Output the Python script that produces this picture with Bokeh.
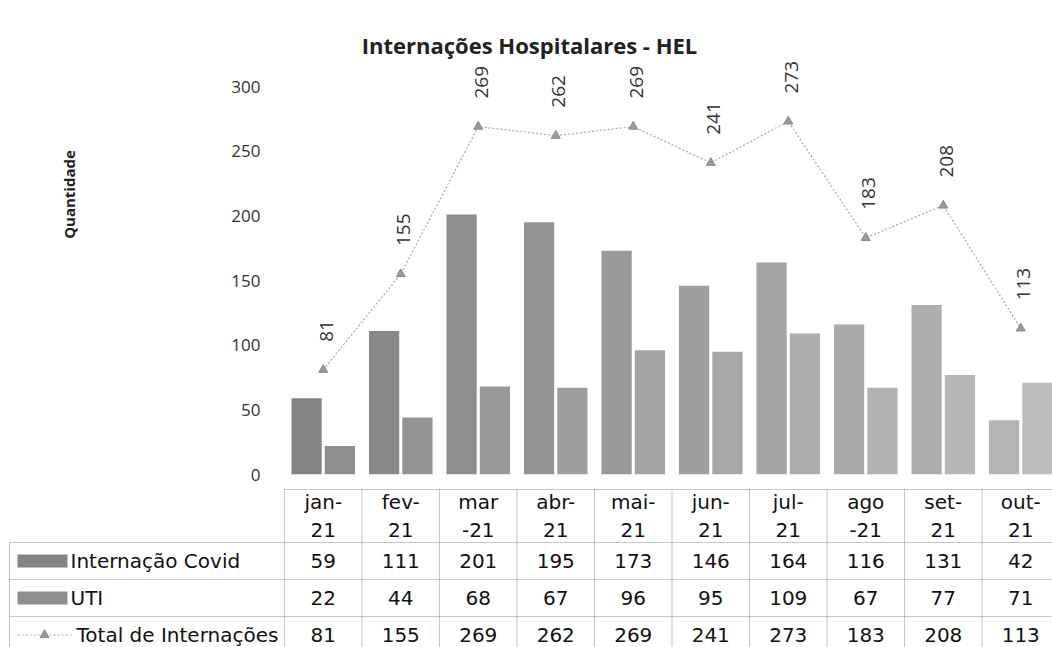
import numpy as np
from bokeh.plotting import figure
from bokeh.layouts import column, row
from bokeh.models import Range1d, FixedTicker, Label, ColumnDataSource
from bokeh.core.properties import value
from bokeh.transform import dodge
from bokeh.embed import file_html
from bokeh.resources import INLINE

# ---------------- data ----------------
months = ["jan-\n21", "fev-\n21", "mar\n-21", "abr-\n21", "mai-\n21",
          "jun-\n21", "jul-\n21", "ago\n-21", "set-\n21", "out-\n21"]
covid = [59, 111, 201, 195, 173, 146, 164, 116, 131, 42]
uti = [22, 44, 68, 67, 96, 95, 109, 67, 77, 71]
total = [81, 155, 269, 262, 269, 241, 273, 183, 208, 113]
series_names = ["Internação Covid", "UTI", "Total de Internações"]
y_ticks = [0, 50, 100, 150, 200, 250, 300]
title_text = "Internações Hospitalares - HEL"
y_label = "Quantidade"

# ---------------- layout constants ----------------
W = 1052
LAB_W = 110          # strip holding the y-axis title
FRAME_H = 474        # frame from canvas top to the zero line
MAIN_PAD_B = 12      # room for the "0" tick label
MAIN_H = FRAME_H + MAIN_PAD_B
TABLE_H = 647 - MAIN_H
LEFT = 284           # frame left on the page
COLW = 77.5          # px per category
PX_PER_UNIT = 1.2933 # px per y unit

n = len(months)
xr_end = (W - LEFT) / COLW
xr_start_tab = -LEFT / COLW
y_end = FRAME_H / PX_PER_UNIT

FONT = "Open Sans"
TFONT = "DejaVu Sans"

xs = np.arange(n) + 0.5
shade_c = [int(0x84 + (0xb4 - 0x84) * i / (n - 1)) for i in range(n)]
shade_u = [int(0x8e + (0xbc - 0x8e) * i / (n - 1)) for i in range(n)]
col_c = ["#%02x%02x%02x" % (g, g, g) for g in shade_c]
col_u = ["#%02x%02x%02x" % (g, g, g) for g in shade_u]

# ---------------- y-axis title strip ----------------
lab = figure(width=LAB_W, height=MAIN_H, output_backend="svg",
             toolbar_location=None, x_range=Range1d(0, LAB_W),
             y_range=Range1d(0, MAIN_H), min_border_left=0, min_border_right=0,
             min_border_top=0, min_border_bottom=0, title=None,
             frame_align=False)
lab.axis.visible = False
lab.grid.visible = False
lab.outline_line_color = None
lab.add_layout(Label(x=68, y=MAIN_H - 194, x_units="screen", y_units="screen",
                     text=y_label, angle=np.pi / 2, text_align="center",
                     text_baseline="middle", text_font=FONT,
                     text_font_style="bold", text_font_size="15px",
                     text_color="#222222"))

# ---------------- main chart ----------------
p = figure(width=W - LAB_W, height=MAIN_H, output_backend="svg",
           toolbar_location=None,
           x_range=Range1d(0, xr_end), y_range=Range1d(0, y_end),
           min_border_left=LEFT - LAB_W, min_border_right=0, min_border_top=0,
           min_border_bottom=MAIN_PAD_B, title=None, frame_align=False)
p.outline_line_color = None
p.xaxis.visible = False
p.xgrid.visible = False
p.ygrid.visible = False

ax = p.yaxis[0]
ax.ticker = FixedTicker(ticks=y_ticks)
ax.axis_line_color = None
ax.major_tick_line_color = None
ax.minor_tick_line_color = None
ax.major_tick_out = 0
ax.major_tick_in = 0
ax.major_label_standoff = 24
ax.major_label_text_font = FONT
ax.major_label_text_font_size = "17px"
ax.major_label_text_color = "#333333"

src = ColumnDataSource(dict(x=xs, covid=covid, uti=uti, total=total,
                            col_c=col_c, col_u=col_u,
                            lbl=[str(v) for v in total]))
p.vbar(x=dodge("x", -0.215), top="covid", width=0.39, bottom=0, source=src,
       fill_color="col_c", line_color=None)
p.vbar(x=dodge("x", 0.215), top="uti", width=0.39, bottom=0, source=src,
       fill_color="col_u", line_color=None)

p.line(x="x", y="total", source=src, line_color="#a8a8a8", line_width=1.2,
       line_dash="2 2")
p.scatter(x="x", y="total", source=src, marker="triangle", size=9,
          fill_color="#9a9a9a", line_color="#8a8a8a")
p.text(x="x", y="total", text="lbl", source=src, angle=np.pi / 2,
       text_align="left", text_baseline="middle", y_offset=-28, x_offset=3,
       text_font=value(FONT), text_font_size="19px", text_color="#333333")

p.add_layout(Label(x=529 - LEFT, y=FRAME_H - 44, x_units="screen", y_units="screen",
                   text=title_text, text_align="center", text_baseline="middle",
                   text_font=FONT, text_font_style="bold",
                   text_font_size="22px", text_color="#222222"))

# ---------------- data table ----------------
t = figure(width=W, height=TABLE_H, output_backend="svg", toolbar_location=None,
           x_range=Range1d(xr_start_tab, xr_end), y_range=Range1d(TABLE_H, 0),
           min_border_left=0, min_border_right=0, min_border_top=0,
           min_border_bottom=0, title=None, frame_align=False)
t.axis.visible = False
t.grid.visible = False
t.outline_line_color = None

HDR_TOP = 489 - MAIN_H
HDR_BOT = 542 - MAIN_H
ROW_H = 37
rows_y = [HDR_BOT + ROW_H * k for k in range(4)]
legend_left = xr_start_tab + 9 / COLW

grid_style = dict(line_color="#8c8c8c", line_width=1, line_dash="1 1")
t.segment(x0=[0], y0=[HDR_TOP], x1=[n + 1], y1=[HDR_TOP], **grid_style)
t.segment(x0=[legend_left] * len(rows_y), y0=rows_y,
          x1=[n + 1] * len(rows_y), y1=rows_y, **grid_style)
vx = list(range(n + 1))
t.segment(x0=vx, y0=[HDR_TOP] * len(vx), x1=vx, y1=[TABLE_H] * len(vx), **grid_style)
t.segment(x0=[legend_left], y0=[HDR_BOT], x1=[legend_left], y1=[TABLE_H], **grid_style)

txt_style = dict(text_font=value(TFONT), text_font_size="20px",
                 text_color="#111111", text_align="center",
                 text_baseline="middle")
t.text(x=xs, y=[(HDR_TOP + HDR_BOT) / 2] * n, text=months,
       text_line_height=1.2, **txt_style)
for k, vals in enumerate([covid, uti, total]):
    cy = rows_y[k] + ROW_H / 2
    t.text(x=xs, y=[cy] * n, text=[str(v) for v in vals], **txt_style)

sw_x0 = xr_start_tab + 17 / COLW
sw_x1 = xr_start_tab + 67 / COLW
for k in range(2):
    cy = rows_y[k] + ROW_H / 2
    t.quad(left=[sw_x0], right=[sw_x1], top=[cy - 6.5], bottom=[cy + 6.5],
           fill_color=[col_c[0], col_u[0]][k], line_color=None)
cy = rows_y[2] + ROW_H / 2
t.segment(x0=[sw_x0], y0=[cy], x1=[xr_start_tab + 72 / COLW], y1=[cy],
          line_color="#a8a8a8", line_width=1.2, line_dash="2 2")
t.scatter(x=[xr_start_tab + 44 / COLW], y=[cy], marker="triangle", size=9,
          fill_color="#9a9a9a", line_color="#8a8a8a")
name_x = [xr_start_tab + 70 / COLW, xr_start_tab + 70 / COLW,
          xr_start_tab + 76 / COLW]
t.text(x=name_x, y=[rows_y[k] + ROW_H / 2 for k in range(3)], text=series_names,
       text_font=value(TFONT), text_font_size="20px", text_color="#111111",
       text_align="left", text_baseline="middle")

layout = column(row(lab, p, spacing=0), t, spacing=0)
open("out.html", "w").write(file_html(layout, INLINE))
